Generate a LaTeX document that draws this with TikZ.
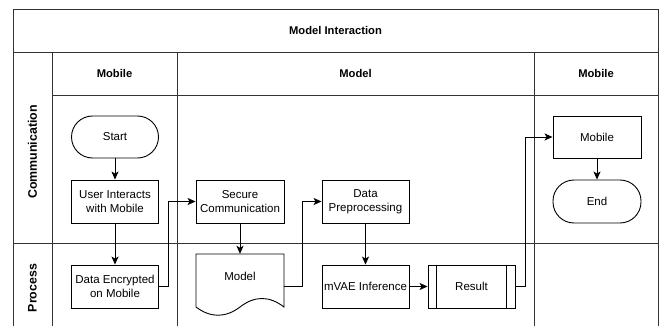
\documentclass[tikz,border=0pt]{standalone}
\usepackage{fontspec}
\setmainfont{Liberation Sans}
\usetikzlibrary{arrows.meta}

\tikzset{
  grid/.style={draw=black!80, line width=0.9pt},
  boxtext/.style={font=\fontsize{11.5}{14.5}\selectfont, align=center},
  headtext/.style={font=\fontsize{11.2}{13}\selectfont\bfseries},
  lanetext/.style={font=\fontsize{12.4}{14}\selectfont\bfseries, rotate=90},
  procbox/.style={boxtext, draw=black, line width=0.9pt, inner sep=0pt,
    minimum width=87pt, minimum height=43pt},
  termbox/.style={procbox, rounded corners=21pt, minimum height=42pt},
  docbox/.style={inner sep=0pt, minimum width=88pt, minimum height=64pt},
  arr/.style={draw=black, line width=0.9pt,
    -{Stealth[length=8pt, width=7pt, inset=2pt]}},
  link/.style={draw=black, line width=0.9pt},
}

\begin{document}
\begin{tikzpicture}[x=1pt, y=-1pt]
\useasboundingbox (0,0) rectangle (664,326);

% swimlane frame
\draw[grid] (13,326) -- (13,9) -- (658,9) -- (658,326);
\draw[grid] (13,52) -- (658,52);
\draw[grid] (52,95) -- (658,95);
\draw[grid] (13,243) -- (658,243);
\draw[grid] (52,52) -- (52,326);
\draw[grid] (177,52) -- (177,326);
\draw[grid] (534,52) -- (534,326);

% titles
\node[headtext] (title) at (335.5,30.5) {Model Interaction};
\node[headtext] (hmob1) at (114.5,73.5) {Mobile};
\node[headtext] (hmodel) at (355.5,73.5) {Model};
\node[headtext] (hmob2) at (596,73.5) {Mobile};
\node[lanetext] (lcomm) at (32.5,152) {Communication};
\node[lanetext] (lproc) at (32.5,288) {Process};

% flow steps
\node[termbox] (start) at (115,137) {Start};
\node[procbox] (user) at (115,201.5) {User Interacts\\with Mobile};
\node[procbox] (enc) at (115,286.5) {Data Encrypted\\on Mobile};
\node[procbox, minimum width=88pt] (secure) at (240,201.5) {Secure\\Communication};
\node[docbox] (model) at (240,286) {};
\draw[line width=0.9pt] (196,307) -- (196,254) -- (284,254) -- (284,307)
  .. controls (269.33,295.67) and (254.67,295.67) .. (240,307)
  .. controls (225.33,318) and (210.67,318) .. (196,307);
\node[boxtext] (modeltext) at (240,276) {Model};
\node[procbox] (prep) at (365.5,201.5) {Data\\Preprocessing};
\node[procbox] (infer) at (365.5,286.5) {mVAE Inference};
\node[procbox] (result) at (471.5,286.5) {Result};
\draw[line width=0.9pt] ([xshift=8.7pt]result.north west) -- ([xshift=8.7pt]result.south west);
\draw[line width=0.9pt] ([xshift=-8.7pt]result.north east) -- ([xshift=-8.7pt]result.south east);
\node[procbox, minimum width=88pt, minimum height=42pt] (mobile) at (597,137) {Mobile};
\node[termbox, minimum width=88pt, minimum height=43pt] (end) at (597,201.5) {End};

% connectors
\draw[arr] (start) -- (user);
\draw[arr] (user) -- (enc);
\draw[arr] (enc.east) -- ++(9,0) |- (secure.west);
\draw[arr] (secure) -- (model.north);
\draw[arr] (model.east) -- ++(18,0) |- (prep.west);
\draw[arr] (prep) -- (infer);
\draw[arr] (infer) -- (result);
\draw[arr] (result.east) -- ++(10,0) |- (mobile.west);
\draw[arr] (mobile) -- (end);
\end{tikzpicture}
\end{document}
